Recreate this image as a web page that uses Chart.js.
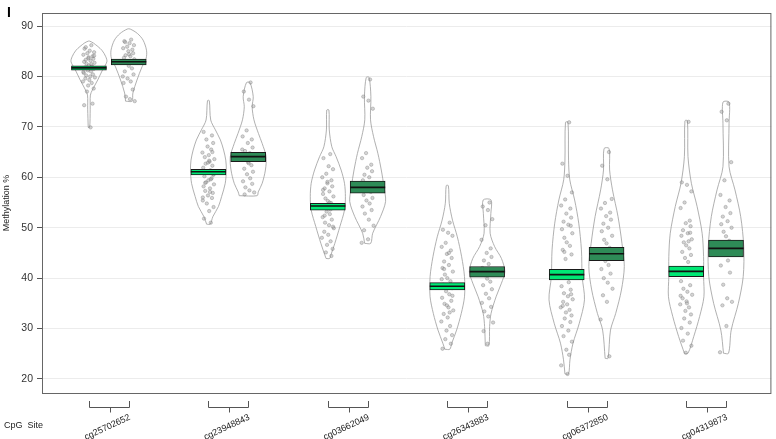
<!DOCTYPE html>
<html>
<head>
<meta charset="utf-8">
<script src="https://cdn.jsdelivr.net/npm/chart.js@4.4.1/dist/chart.umd.min.js"></script>
<style>
  html, body { margin: 0; padding: 0; background: #fff; }
</style>
</head>
<body>
<canvas id="grafica" width="776" height="439"></canvas>
<script>
// Sitios CpG (un par de violines por sitio)
const sitios = ['cg25702652', 'cg23948843', 'cg03662049', 'cg26343883', 'cg06372850', 'cg04319873'];
const yTicks = [20, 30, 40, 50, 60, 70, 80, 90];

// Medias e intervalos (grupo A = verde claro, grupo B = verde oscuro)
const mediasA = [81.7, 61.1, 54.3, 38.4, 40.7, 41.35];
const icBajoA = [81.25, 60.45, 53.5, 37.65, 39.65, 40.3];
const icAltoA = [82.1, 61.6, 54.85, 39.1, 41.75, 42.4];
const mediasB = [82.9, 64.1, 58.0, 41.3, 44.85, 45.9];
const icBajoB = [82.3, 63.1, 56.85, 40.2, 43.45, 44.2];
const icAltoB = [83.45, 64.95, 59.25, 42.3, 46.1, 47.55];

// Perfil de densidad de cada violín (valor, densidad relativa)
const perfilValA = [
  [69.9, 73.5, 76.3, 77.3, 79.3, 81.3, 82.9, 83.9, 85.2, 86.6, 87.0],
  [50.7, 52.2, 54.2, 56.2, 58.8, 61.45, 63.4, 65.4, 67.4, 69.4, 71.36, 75.2],
  [43.9, 44.6, 46.9, 50.2, 53.5, 56.15, 58.8, 61.45, 64.1, 66.07, 69.4, 73.34],
  [25.9, 27.1, 29.7, 33.0, 36.3, 40.3, 44.25, 48.2, 51.5, 54.84, 58.34],
  [21.0, 23.8, 27.1, 31.05, 35.7, 40.3, 45.6, 50.9, 55.5, 59.5, 63.4, 70.9],
  [25.1, 28.4, 32.4, 36.3, 40.3, 44.25, 48.9, 54.2, 58.8, 64.1, 71.2]
];
const perfilDenA = [
  [0.04, 0.07, 0.08, 0.19, 0.49, 0.76, 1.0, 0.94, 0.72, 0.26, 0.04],
  [0.1, 0.25, 0.56, 0.74, 0.94, 1.0, 0.97, 0.85, 0.67, 0.39, 0.13, 0.05],
  [0.1, 0.17, 0.39, 0.67, 0.93, 0.98, 0.93, 0.74, 0.46, 0.22, 0.08, 0.06],
  [0.14, 0.25, 0.52, 0.78, 0.96, 0.96, 0.8, 0.56, 0.29, 0.11, 0.06],
  [0.1, 0.18, 0.35, 0.7, 0.99, 0.86, 0.82, 0.67, 0.44, 0.17, 0.1, 0.07],
  [0.1, 0.42, 0.75, 0.99, 0.97, 0.97, 0.89, 0.61, 0.29, 0.1, 0.07]
];
const perfilValB = [
  [75.1, 76.7, 79.3, 81.9, 83.6, 85.2, 87.2, 88.5, 89.4],
  [56.35, 57.1, 58.8, 61.45, 64.1, 66.7, 68.7, 71.4, 74.0, 76.0, 78.76],
  [46.9, 48.9, 52.2, 55.2, 58.1, 61.45, 64.75, 68.05, 71.4, 76.0, 79.8],
  [26.6, 30.4, 33.0, 36.3, 39.0, 41.3, 43.9, 46.25, 48.9, 52.85, 55.5],
  [24.1, 29.7, 33.0, 37.65, 42.3, 46.9, 52.2, 57.5, 61.45, 65.7],
  [25.1, 29.7, 35.0, 40.3, 46.25, 52.2, 57.5, 62.1, 70.7, 74.9]
];
const perfilDenB = [
  [0.18, 0.23, 0.46, 0.74, 0.97, 0.99, 0.8, 0.49, 0.08],
  [0.5, 0.56, 0.78, 0.96, 1.0, 0.78, 0.57, 0.32, 0.22, 0.28, 0.1],
  [0.17, 0.28, 0.72, 1.0, 0.91, 0.76, 0.57, 0.33, 0.16, 0.18, 0.08],
  [0.1, 0.14, 0.22, 0.5, 0.8, 0.99, 0.8, 0.42, 0.17, 0.21, 0.22],
  [0.08, 0.22, 0.51, 0.83, 0.99, 0.86, 0.64, 0.33, 0.17, 0.14],
  [0.14, 0.29, 0.69, 0.96, 0.99, 0.82, 0.5, 0.17, 0.17, 0.17]
];

// Observaciones individuales (leídas aproximadamente del gráfico)
const puntosA = [
  [86.2, 85.5, 85.1, 84.8, 84.6, 84.3, 84.0, 83.8, 83.5, 83.3, 83.1, 82.9, 82.7, 82.5, 82.2, 82.0, 81.8, 81.5, 81.2, 81.0, 80.7, 80.4, 80.2, 80.0, 79.8, 79.6, 79.3, 79.0, 78.7, 78.2, 77.6, 77.0, 74.6, 74.3, 69.9, 85.8, 84.1, 83.6, 82.4, 80.9],
  [51.0, 51.8, 53.3, 54.1, 54.8, 55.4, 55.9, 56.4, 56.9, 57.3, 57.8, 58.2, 58.6, 59.0, 59.4, 59.8, 60.2, 60.6, 61.0, 61.4, 61.9, 62.3, 62.7, 63.1, 63.6, 64.0, 64.4, 64.9, 65.5, 66.1, 66.8, 67.5, 68.3, 69.0, 57.1, 58.9, 60.5, 62.9, 59.6, 56.0, 63.3, 65.0],
  [64.6, 63.8, 62.2, 61.6, 60.7, 60.0, 59.4, 58.8, 58.2, 57.8, 57.2, 56.7, 56.2, 55.8, 55.3, 54.9, 54.4, 53.9, 53.2, 52.7, 52.1, 51.6, 51.0, 50.5, 49.9, 49.2, 48.6, 48.0, 47.3, 46.6, 45.8, 45.1, 44.4, 57.5, 55.0, 52.4, 50.2, 59.1, 53.6],
  [51.0, 49.6, 49.0, 48.4, 47.0, 46.2, 45.5, 44.8, 44.0, 43.3, 42.6, 42.0, 41.3, 40.7, 40.0, 39.4, 38.7, 38.0, 37.4, 36.8, 36.1, 35.5, 34.9, 34.2, 33.6, 32.9, 32.2, 31.4, 30.5, 29.6, 28.7, 27.9, 27.0, 26.0, 45.0, 41.8, 36.5, 34.6, 33.2, 39.8],
  [70.9, 62.7, 60.3, 57.0, 55.6, 54.4, 53.8, 52.8, 52.0, 51.2, 50.6, 49.7, 48.9, 48.0, 47.1, 46.4, 45.6, 44.7, 43.8, 39.2, 38.4, 37.7, 37.0, 36.4, 35.8, 35.3, 34.8, 34.2, 33.7, 33.2, 32.6, 32.0, 31.3, 30.5, 29.6, 28.5, 27.4, 25.8, 24.8, 22.7, 21.0, 50.4, 45.2, 36.8, 34.5],
  [71.0, 59.0, 58.5, 57.2, 55.0, 53.9, 51.4, 50.9, 50.3, 49.5, 48.9, 48.4, 47.7, 47.1, 46.5, 45.9, 45.2, 44.6, 44.0, 43.2, 39.4, 38.6, 37.9, 37.3, 36.7, 36.0, 35.4, 34.8, 34.2, 33.5, 32.8, 32.0, 31.2, 30.1, 29.0, 27.6, 26.6, 25.2, 47.3, 36.5, 35.0, 49.0]
];
const puntosB = [
  [87.3, 87.0, 86.6, 86.2, 85.9, 85.6, 85.3, 85.0, 84.6, 84.2, 84.0, 83.7, 83.4, 82.7, 82.1, 81.6, 81.0, 80.4, 79.6, 79.0, 78.7, 77.4, 76.0, 75.5, 75.1, 86.8, 84.4, 80.0],
  [78.8, 77.0, 75.4, 74.1, 69.3, 68.1, 67.5, 66.8, 65.9, 65.2, 64.8, 64.3, 63.9, 63.5, 63.0, 62.4, 61.7, 61.1, 60.6, 59.8, 59.2, 58.7, 58.0, 57.4, 57.0, 56.6, 62.8, 65.5],
  [79.4, 76.0, 75.2, 73.6, 64.8, 63.8, 62.5, 61.9, 61.2, 60.5, 60.0, 59.4, 58.7, 58.2, 57.6, 57.1, 56.5, 55.9, 55.4, 54.8, 54.2, 53.5, 52.8, 51.6, 50.4, 49.5, 47.7, 47.0],
  [55.0, 54.2, 53.5, 51.7, 50.5, 47.6, 45.9, 45.0, 44.2, 43.5, 42.8, 42.0, 41.2, 40.6, 39.9, 39.3, 38.6, 37.8, 36.9, 36.0, 35.1, 34.3, 33.4, 32.4, 31.2, 29.5, 27.0],
  [65.0, 62.3, 59.6, 55.7, 54.9, 53.8, 53.0, 52.3, 51.6, 50.8, 50.0, 49.3, 48.4, 47.6, 46.9, 46.0, 45.2, 44.2, 43.4, 42.6, 41.8, 40.9, 40.0, 39.1, 37.9, 36.6, 35.3, 31.8, 24.5],
  [74.6, 73.0, 71.3, 63.0, 59.4, 56.5, 55.4, 54.1, 52.9, 52.2, 51.3, 50.7, 50.0, 49.2, 48.3, 47.4, 46.5, 45.6, 44.6, 43.5, 42.5, 41.1, 38.7, 36.0, 35.3, 34.6, 30.5, 25.3]
];
// Desplazamiento horizontal fijo de los puntos (jitter)
const jitter = [0.06, -0.11, 0.02, 0.13, -0.04, -0.14, 0.09, -0.01, 0.11, -0.08, 0.04, -0.12, 0.14, -0.06, 0.0, 0.08, -0.1, 0.12, -0.03, 0.05, -0.13, 0.1, -0.07, 0.03, 0.15, -0.09, 0.01, -0.15, 0.07, -0.02, 0.12, -0.05, 0.09, -0.12, 0.04, -0.08, 0.13, -0.01, 0.06, -0.14, 0.02, 0.1, -0.06, 0.11, -0.1, 0.05];

const colorA = '#00e874';
const colorB = '#2e8b57';
const ANCHO_VIOLIN = 0.45;   // media anchura máxima (unidades del eje x)
const ANCHO_MEDIA = 0.44;
const fuente = 'Liberation Sans, Arial, Helvetica, sans-serif';

// posición en el eje x de cada violín
function posicion(g, s) { return g * 3 + s + 1; }

function violin(centro, valores, dens) {
    const izq = valores.map((v, i) => ({ x: centro - dens[i] * ANCHO_VIOLIN, y: v }));
    const der = valores.map((v, i) => ({ x: centro + dens[i] * ANCHO_VIOLIN, y: v })).reverse();
    return izq.concat(der, [izq[0]]);
}

const datasets = [];
const bandas = [];
const coloresBanda = [];
const lineasMedia = [];

sitios.forEach((sitio, g) => {
    [[perfilValA, perfilDenA, puntosA, mediasA, icBajoA, icAltoA, colorA],
     [perfilValB, perfilDenB, puntosB, mediasB, icBajoB, icAltoB, colorB]].forEach((grupo, s) => {
        const [pv, pd, pts, med, lo, hi, col] = grupo;
        const c = posicion(g, s);

        datasets.push({
            type: 'line',
            data: violin(c, pv[g], pd[g]),
            borderColor: '#9c9c9c',
            borderWidth: 0.8,
            pointRadius: 0,
            tension: 0.3,
            fill: false,
            order: 3
        });

        datasets.push({
            type: 'scatter',
            data: pts[g].map((v, i) => ({ x: c + jitter[i % jitter.length], y: v })),
            pointRadius: 1.7,
            backgroundColor: 'rgba(160,160,160,0.45)',
            borderColor: 'rgba(110,110,110,0.55)',
            borderWidth: 0.6,
            order: 2
        });

        bandas.push({ x: c, y: [lo[g], hi[g]] });
        coloresBanda.push(col);

        lineasMedia.push({ x: c - ANCHO_MEDIA, y: med[g] });
        lineasMedia.push({ x: c + ANCHO_MEDIA, y: med[g] });
        lineasMedia.push({ x: c, y: null });
    });
});

datasets.push({
    type: 'bar',
    data: bandas,
    backgroundColor: coloresBanda,
    borderColor: '#1a1a1a',
    borderWidth: 1,
    borderSkipped: false,
    barThickness: 35,
    order: 1
});

datasets.push({
    type: 'line',
    data: lineasMedia,
    borderColor: '#111',
    borderWidth: 1.6,
    pointRadius: 0,
    spanGaps: false,
    tension: 0,
    order: 0
});

// Marco, corchetes de cada sitio y rótulos sueltos
const decoraciones = {
    id: 'decoraciones',
    afterDraw(chart) {
        const { ctx, chartArea: a, scales: { x } } = chart;
        ctx.save();
        ctx.strokeStyle = '#666';
        ctx.lineWidth = 1;
        ctx.strokeRect(a.left + 0.5, a.top + 0.5, a.right - a.left - 1, a.bottom - a.top);

        ctx.strokeStyle = '#555';
        sitios.forEach((s, g) => {
            const x1 = Math.round(x.getPixelForValue(posicion(g, 0))) + 0.5;
            const x2 = Math.round(x.getPixelForValue(posicion(g, 1))) + 0.5;
            const xm = Math.round((x1 + x2) / 2) + 0.5;
            const y0 = a.bottom + 8, y1 = a.bottom + 14.5, y2 = a.bottom + 19.5;
            ctx.beginPath();
            ctx.moveTo(x1, y0); ctx.lineTo(x1, y1); ctx.lineTo(x2, y1); ctx.lineTo(x2, y0);
            ctx.moveTo(xm, y1); ctx.lineTo(xm, y2);
            ctx.stroke();
        });

        ctx.fillStyle = '#000';
        ctx.font = 'bold 14px ' + fuente;
        ctx.textBaseline = 'top';
        ctx.fillText('I', 7, 6);

        ctx.fillStyle = '#222';
        ctx.font = '9px ' + fuente;
        ctx.textBaseline = 'middle';
        ctx.fillText('CpG  Site', 4, 426);
        ctx.restore();
    }
};

new Chart(document.getElementById('grafica'), {
    type: 'scatter',
    data: { datasets },
    options: {
        responsive: false,
        animation: false,
        layout: { padding: { top: 13, right: 4, left: 0, bottom: 0 } },
        plugins: { legend: { display: false }, tooltip: { enabled: false } },
        scales: {
            x: {
                type: 'linear',
                offset: false,
                min: -0.179,
                max: 18.14,
                afterFit: (scale) => { scale.height = 46; },
                afterBuildTicks: (scale) => {
                    scale.ticks = sitios.map((s, g) => ({ value: posicion(g, 0) + 0.5 }));
                },
                grid: { display: false, drawTicks: false, offset: false },
                border: { display: false },
                ticks: {
                    autoSkip: false,
                    minRotation: 25,
                    maxRotation: 25,
                    labelOffset: 21,
                    padding: 19,
                    color: '#222',
                    font: { family: fuente, size: 9 },
                    callback: (v, i) => sitios[i]
                }
            },
            y: {
                min: 17.22,
                max: 92.58,
                afterFit: (scale) => { scale.width = 42; },
                afterBuildTicks: (scale) => {
                    scale.ticks = yTicks.map(v => ({ value: v }));
                },
                grid: { color: '#ececec', tickColor: '#555', tickLength: 5, lineWidth: 1 },
                border: { display: false },
                ticks: {
                    padding: 4,
                    color: '#333',
                    font: { family: fuente, size: 10.5 }
                },
                title: {
                    display: true,
                    text: 'Methylation %',
                    color: '#222',
                    font: { family: fuente, size: 9 },
                    padding: { top: 1, bottom: 0 }
                }
            }
        }
    },
    plugins: [decoraciones]
});
</script>
</body>
</html>
